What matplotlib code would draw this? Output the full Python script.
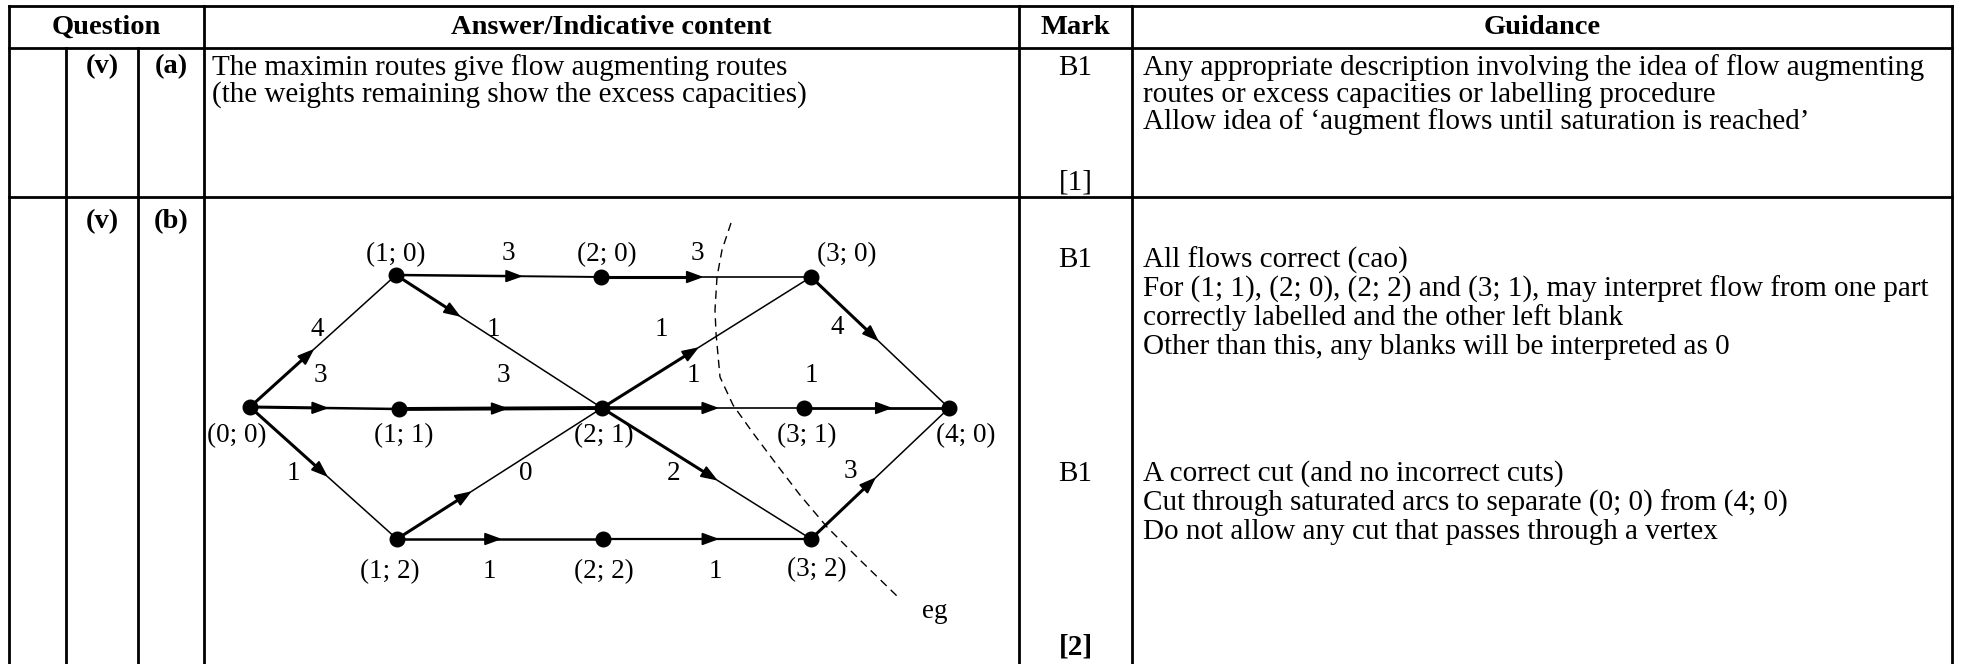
import numpy as np
import matplotlib.pyplot as plt

plt.rcParams['font.family'] = ['Liberation Serif', 'DejaVu Serif']

# ---- table text ----
headers = ["Question", "Answer/Indicative content", "Mark", "Guidance"]
question_part = ["(v)", "(v)"]
question_sub = ["(a)", "(b)"]
answer_a = ["The maximin routes give flow augmenting routes",
            "(the weights remaining show the excess capacities)"]
marks_a = ["B1", "[1]"]
guidance_a = ["Any appropriate description involving the idea of flow augmenting",
              "routes or excess capacities or labelling procedure",
              "Allow idea of \u2018augment flows until saturation is reached\u2019"]
marks_b = ["B1", "B1", "[2]"]
guidance_b1 = ["All flows correct (cao)",
               "For (1; 1), (2; 0), (2; 2) and (3; 1), may interpret flow from one part",
               "correctly labelled and the other left blank",
               "Other than this, any blanks will be interpreted as 0"]
guidance_b2 = ["A correct cut (and no incorrect cuts)",
               "Cut through saturated arcs to separate (0; 0) from (4; 0)",
               "Do not allow any cut that passes through a vertex"]

# ---- network ----
node_names = ["(0; 0)", "(1; 0)", "(2; 0)", "(3; 0)", "(1; 1)", "(2; 1)",
              "(3; 1)", "(4; 0)", "(1; 2)", "(2; 2)", "(3; 2)"]
node_x = [250, 396, 601, 811, 399, 602, 804, 949, 397, 603, 811]
node_y = [407, 275, 277, 277, 409, 408, 408, 408, 539, 539, 539]
name_x = [237, 396, 607, 847, 404, 604, 807, 966, 390, 604, 817]
name_y = [436, 255, 255, 255, 436, 436, 436, 436, 572, 572, 570]

edge_from = ["(0; 0)", "(0; 0)", "(0; 0)", "(1; 0)", "(1; 0)", "(1; 1)", "(2; 0)", "(2; 1)",
             "(2; 1)", "(2; 1)", "(1; 2)", "(1; 2)", "(2; 2)", "(3; 0)", "(3; 1)", "(3; 2)"]
edge_to = ["(1; 0)", "(1; 1)", "(1; 2)", "(2; 0)", "(2; 1)", "(2; 1)", "(3; 0)", "(3; 0)",
           "(3; 1)", "(3; 2)", "(2; 1)", "(2; 2)", "(3; 2)", "(4; 0)", "(4; 0)", "(4; 0)"]
edge_flow = [4, 3, 1, 3, 1, 3, 3, 1, 1, 2, 0, 1, 1, 4, 1, 3]
flow_x = [317, 320, 293, 508, 493, 503, 697, 661, 693, 674, 526, 489, 715, 837, 811, 850]
flow_y = [329, 376, 473, 254, 329, 376, 254, 329, 376, 473, 473, 572, 572, 328, 376, 472]
arrow_at = [0.41, 0.49, 0.50, 0.59, 0.29, 0.51, 0.46, 0.44, 0.55, 0.53, 0.34, 0.48, 0.53, 0.46, 0.57, 0.44]
lw_before = [2.2, 2.2, 2.2, 1.8, 2.2, 2.8, 2.2, 2.2, 2.6, 2.2, 2.2, 1.8, 1.6, 2.2, 2.0, 2.2]
lw_after = [1.1, 1.8, 1.1, 1.4, 1.1, 2.8, 1.2, 1.1, 1.2, 1.1, 1.1, 1.8, 1.6, 1.1, 2.0, 1.1]

# min cut (dashed)
cut_x = [731, 722, 717, 715, 716, 720, 733, 753, 777, 800, 827, 860, 898]
cut_y = [223, 250, 277, 310, 333, 377, 405, 433, 465, 495, 527, 560, 597]

fig = plt.figure(figsize=(19.61, 6.64), dpi=100)
ax = fig.add_axes([0, 0, 1, 1])
ax.set_xlim(0, 1961)
ax.set_ylim(664, 0)
ax.axis('off')

fs = 21
fs_head = 20.5
fs_net = 19.5
tlw = 2.0
L, R, T, HB, R1, B = 9, 1952, 6, 48, 197, 670
cols = [66, 138, 204, 1019, 1132]

# table grid
for y in [T, HB, R1]:
    ax.plot([L, R], [y, y], color='black', lw=tlw, solid_capstyle='projecting')
ax.plot([L, L], [T, B], color='black', lw=tlw)
ax.plot([R, R], [T, B], color='black', lw=tlw)
for i, x in enumerate(cols):
    ax.plot([x, x], [HB if i < 2 else T, B], color='black', lw=tlw)

hx = [(L + cols[2]) / 2, (cols[2] + cols[3]) / 2, (cols[3] + cols[4]) / 2, (cols[4] + R) / 2]
for h, x in zip(headers, hx):
    ax.text(x, 27, h, ha='center', va='center', fontsize=fs_head, fontweight='bold')

row_y = [67, 222]
for q, s, y in zip(question_part, question_sub, row_y):
    ax.text((cols[0] + cols[1]) / 2, y, q, ha='center', va='center', fontsize=fs_head, fontweight='bold')
    ax.text((cols[1] + cols[2]) / 2, y, s, ha='center', va='center', fontsize=fs_head, fontweight='bold')

mark_x = (cols[3] + cols[4]) / 2
for i, t in enumerate(answer_a):
    ax.text(212, 68 + i * 27, t, ha='left', va='center', fontsize=fs)
for i, t in enumerate(guidance_a):
    ax.text(1143, 68 + i * 27, t, ha='left', va='center', fontsize=fs)
ax.text(mark_x, 68, marks_a[0], ha='center', va='center', fontsize=fs)
ax.text(mark_x, 182, marks_a[1], ha='center', va='center', fontsize=fs)

for i, t in enumerate(guidance_b1):
    ax.text(1143, 260 + i * 29, t, ha='left', va='center', fontsize=fs)
for i, t in enumerate(guidance_b2):
    ax.text(1143, 474 + i * 29, t, ha='left', va='center', fontsize=fs)
ax.text(mark_x, 260, marks_b[0], ha='center', va='center', fontsize=fs)
ax.text(mark_x, 474, marks_b[1], ha='center', va='center', fontsize=fs)
ax.text(mark_x, 647, marks_b[2], ha='center', va='center', fontsize=fs, fontweight='bold')

# network edges
pos = {n: (x, y) for n, x, y in zip(node_names, node_x, node_y)}
for a, b, f, fx, fy, t, w1, w2 in zip(edge_from, edge_to, edge_flow, flow_x, flow_y,
                                       arrow_at, lw_before, lw_after):
    x0, y0 = pos[a]
    x1, y1 = pos[b]
    xm, ym = x0 + t * (x1 - x0), y0 + t * (y1 - y0)
    ax.plot([x0, xm], [y0, ym], color='black', lw=w1, solid_capstyle='butt', zorder=2)
    ax.plot([xm, x1], [ym, y1], color='black', lw=w2, solid_capstyle='butt', zorder=2)
    d = np.array([x1 - x0, y1 - y0], dtype=float)
    d /= np.hypot(*d)
    nrm = np.array([-d[1], d[0]])
    tip = np.array([xm, ym]) + d * 4
    base = tip - d * 15
    tri = np.array([tip, base + nrm * 5.5, base - nrm * 5.5])
    ax.fill(tri[:, 0], tri[:, 1], color='black', zorder=3)
    ax.text(fx, fy, str(f), ha='center', va='center', fontsize=fs_net)

ax.plot(node_x, node_y, 'o', color='black', ms=10.5, zorder=4)
for n, x, y in zip(node_names, name_x, name_y):
    ax.text(x, y, n, ha='center', va='center', fontsize=fs_net)

ax.plot(cut_x, cut_y, color='black', lw=1.0, ls=(0, (6, 4)), zorder=1)
ax.text(935, 611, "eg", ha='center', va='center', fontsize=fs_net)

fig.savefig("out.png", dpi=100)
